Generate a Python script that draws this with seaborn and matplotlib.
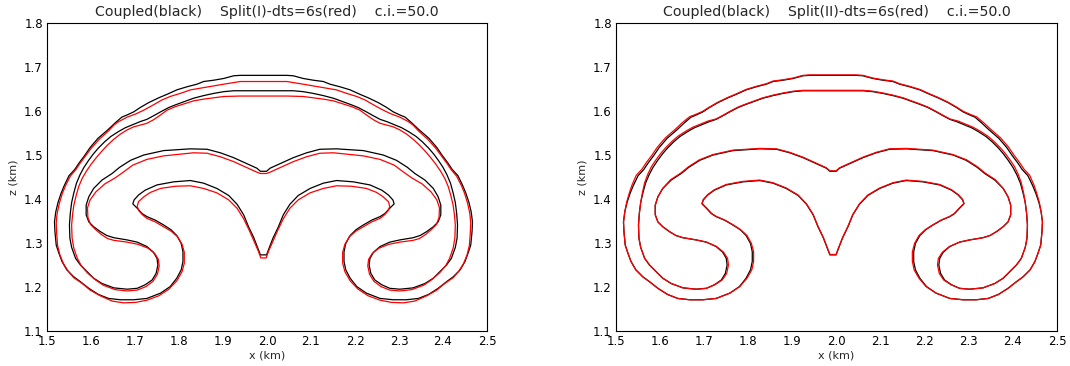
import numpy as np
import pandas as pd
import matplotlib
matplotlib.use("Agg")
import matplotlib.pyplot as plt
import seaborn as sns

# ---------------- data (left halves of symmetric contours) ----------
X_CENTER = 1.992  # axis of symmetry of the bubble

# Coupled (black) - outer contour
black_a_x = [1.992, 1.939, 1.924, 1.902, 1.879, 1.856, 1.841, 1.818, 1.795, 1.773, 1.754, 1.731,
             1.712, 1.697, 1.682, 1.670, 1.655, 1.638, 1.616, 1.598, 1.585, 1.573, 1.563, 1.550,
             1.539, 1.532, 1.525, 1.520, 1.517, 1.518, 1.521, 1.527, 1.534, 1.545, 1.561, 1.576,
             1.595, 1.617, 1.640, 1.667, 1.697, 1.727, 1.758, 1.780, 1.795, 1.805, 1.809, 1.809,
             1.805, 1.795, 1.782, 1.765, 1.746, 1.727, 1.716, 1.705, 1.695, 1.698, 1.708, 1.723,
             1.750, 1.788, 1.826, 1.856, 1.886, 1.913, 1.932, 1.947, 1.958, 1.970, 1.979, 1.985,
             1.992]
black_a_z = [1.681, 1.681, 1.680, 1.674, 1.670, 1.667, 1.661, 1.655, 1.648, 1.638, 1.630, 1.619,
             1.608, 1.598, 1.591, 1.586, 1.573, 1.557, 1.538, 1.517, 1.498, 1.482, 1.467, 1.453,
             1.430, 1.413, 1.392, 1.371, 1.348, 1.326, 1.295, 1.277, 1.258, 1.239, 1.223, 1.212,
             1.197, 1.183, 1.174, 1.171, 1.171, 1.174, 1.186, 1.201, 1.220, 1.239, 1.258, 1.280,
             1.299, 1.317, 1.330, 1.341, 1.352, 1.360, 1.367, 1.379, 1.389, 1.398, 1.409, 1.420,
             1.432, 1.439, 1.442, 1.436, 1.424, 1.408, 1.388, 1.364, 1.337, 1.312, 1.289, 1.273,
             1.273]

# Coupled (black) - inner contour
black_b_x = [1.992, 1.924, 1.902, 1.879, 1.856, 1.833, 1.811, 1.792, 1.777, 1.758, 1.742, 1.727,
             1.712, 1.695, 1.678, 1.662, 1.645, 1.631, 1.617, 1.605, 1.594, 1.584, 1.575, 1.567,
             1.561, 1.556, 1.553, 1.551, 1.552, 1.556, 1.565, 1.576, 1.591, 1.606, 1.625, 1.652,
             1.682, 1.705, 1.723, 1.739, 1.748, 1.752, 1.750, 1.742, 1.727, 1.705, 1.682, 1.652,
             1.636, 1.621, 1.606, 1.595, 1.589, 1.589, 1.595, 1.606, 1.625, 1.648, 1.665, 1.690,
             1.720, 1.765, 1.826, 1.864, 1.894, 1.924, 1.955, 1.977, 1.985, 1.992]
black_b_z = [1.646, 1.646, 1.644, 1.640, 1.635, 1.629, 1.621, 1.614, 1.608, 1.598, 1.589, 1.581,
             1.576, 1.569, 1.562, 1.553, 1.542, 1.530, 1.516, 1.502, 1.487, 1.472, 1.455, 1.436,
             1.414, 1.392, 1.368, 1.341, 1.311, 1.290, 1.265, 1.250, 1.235, 1.220, 1.208, 1.198,
             1.195, 1.197, 1.205, 1.216, 1.231, 1.250, 1.265, 1.279, 1.292, 1.302, 1.307, 1.312,
             1.317, 1.326, 1.337, 1.348, 1.364, 1.386, 1.405, 1.424, 1.443, 1.458, 1.472, 1.488,
             1.500, 1.510, 1.514, 1.513, 1.505, 1.494, 1.480, 1.470, 1.463, 1.463]

# Split(I) (red, left panel) - outer contour
red1_a_x = [1.992, 1.939, 1.902, 1.879, 1.856, 1.826, 1.803, 1.780, 1.761, 1.742, 1.720, 1.701,
            1.682, 1.663, 1.652, 1.640, 1.619, 1.601, 1.587, 1.575, 1.565, 1.553, 1.542, 1.535,
            1.528, 1.523, 1.521, 1.522, 1.524, 1.529, 1.537, 1.548, 1.561, 1.580, 1.598, 1.621,
            1.648, 1.674, 1.701, 1.727, 1.754, 1.777, 1.795, 1.807, 1.812, 1.812, 1.807, 1.797,
            1.782, 1.765, 1.746, 1.727, 1.717, 1.709, 1.705, 1.708, 1.720, 1.735, 1.758, 1.792,
            1.826, 1.856, 1.886, 1.913, 1.932, 1.947, 1.960, 1.971, 1.981, 1.986, 1.992]
red1_a_z = [1.667, 1.667, 1.661, 1.657, 1.653, 1.648, 1.640, 1.633, 1.625, 1.614, 1.602, 1.593,
            1.586, 1.576, 1.568, 1.555, 1.536, 1.516, 1.497, 1.481, 1.466, 1.452, 1.430, 1.413,
            1.390, 1.367, 1.345, 1.322, 1.295, 1.274, 1.254, 1.236, 1.221, 1.208, 1.193, 1.180,
            1.168, 1.164, 1.165, 1.170, 1.180, 1.195, 1.214, 1.235, 1.254, 1.279, 1.297, 1.314,
            1.327, 1.337, 1.348, 1.356, 1.364, 1.373, 1.383, 1.394, 1.405, 1.415, 1.424, 1.429,
            1.430, 1.424, 1.414, 1.398, 1.379, 1.355, 1.328, 1.303, 1.280, 1.266, 1.266]

# Split(I) (red, left panel) - inner contour
red1_b_x = [1.992, 1.939, 1.902, 1.879, 1.856, 1.833, 1.811, 1.792, 1.773, 1.758, 1.742, 1.727,
            1.712, 1.697, 1.682, 1.666, 1.651, 1.637, 1.624, 1.612, 1.601, 1.590, 1.580, 1.572,
            1.566, 1.561, 1.558, 1.556, 1.557, 1.561, 1.569, 1.578, 1.592, 1.609, 1.628, 1.655,
            1.682, 1.705, 1.725, 1.741, 1.751, 1.755, 1.753, 1.745, 1.730, 1.707, 1.682, 1.652,
            1.638, 1.624, 1.610, 1.599, 1.593, 1.592, 1.598, 1.611, 1.631, 1.655, 1.672, 1.695,
            1.727, 1.765, 1.833, 1.864, 1.894, 1.924, 1.955, 1.977, 1.985, 1.992]
red1_b_z = [1.634, 1.634, 1.633, 1.630, 1.627, 1.623, 1.616, 1.610, 1.602, 1.591, 1.580, 1.572,
            1.568, 1.564, 1.557, 1.547, 1.535, 1.522, 1.508, 1.494, 1.480, 1.464, 1.447, 1.428,
            1.407, 1.386, 1.364, 1.341, 1.311, 1.288, 1.265, 1.248, 1.232, 1.217, 1.204, 1.194,
            1.191, 1.193, 1.201, 1.213, 1.229, 1.248, 1.263, 1.276, 1.288, 1.297, 1.302, 1.306,
            1.310, 1.319, 1.331, 1.342, 1.358, 1.380, 1.398, 1.416, 1.434, 1.448, 1.460, 1.477,
            1.490, 1.498, 1.505, 1.504, 1.496, 1.485, 1.471, 1.461, 1.458, 1.458]

# Split(II) (red, right panel) - outer contour
red2_a_x = [1.992, 1.939, 1.924, 1.902, 1.879, 1.856, 1.841, 1.818, 1.795, 1.773, 1.754, 1.731,
            1.712, 1.696, 1.680, 1.667, 1.651, 1.634, 1.612, 1.594, 1.581, 1.569, 1.559, 1.546,
            1.536, 1.530, 1.524, 1.520, 1.517, 1.518, 1.521, 1.527, 1.534, 1.545, 1.561, 1.576,
            1.595, 1.617, 1.640, 1.667, 1.697, 1.727, 1.758, 1.781, 1.797, 1.808, 1.812, 1.812,
            1.807, 1.797, 1.783, 1.766, 1.747, 1.728, 1.717, 1.706, 1.695, 1.698, 1.708, 1.723,
            1.750, 1.788, 1.826, 1.856, 1.886, 1.913, 1.932, 1.947, 1.958, 1.970, 1.979, 1.985,
            1.992]
red2_a_z = [1.682, 1.682, 1.681, 1.675, 1.671, 1.668, 1.662, 1.656, 1.649, 1.639, 1.631, 1.620,
            1.609, 1.599, 1.592, 1.587, 1.574, 1.558, 1.539, 1.518, 1.499, 1.483, 1.468, 1.454,
            1.431, 1.413, 1.392, 1.371, 1.348, 1.326, 1.295, 1.277, 1.258, 1.239, 1.223, 1.212,
            1.197, 1.183, 1.174, 1.171, 1.171, 1.174, 1.186, 1.201, 1.220, 1.239, 1.258, 1.280,
            1.299, 1.317, 1.330, 1.341, 1.352, 1.360, 1.367, 1.379, 1.390, 1.399, 1.410, 1.421,
            1.433, 1.440, 1.443, 1.437, 1.425, 1.409, 1.389, 1.365, 1.338, 1.313, 1.290, 1.274,
            1.274]

# Split(II) (red, right panel) - inner contour
red2_b_x = [1.992, 1.924, 1.902, 1.879, 1.856, 1.833, 1.811, 1.792, 1.777, 1.758, 1.742, 1.727,
            1.708, 1.691, 1.674, 1.658, 1.641, 1.627, 1.613, 1.601, 1.590, 1.580, 1.572, 1.565,
            1.560, 1.556, 1.553, 1.551, 1.552, 1.556, 1.565, 1.576, 1.591, 1.606, 1.625, 1.652,
            1.682, 1.705, 1.724, 1.741, 1.751, 1.755, 1.753, 1.744, 1.728, 1.705, 1.682, 1.652,
            1.636, 1.621, 1.606, 1.595, 1.589, 1.589, 1.595, 1.606, 1.624, 1.647, 1.664, 1.689,
            1.720, 1.765, 1.826, 1.864, 1.894, 1.924, 1.955, 1.977, 1.985, 1.992]
red2_b_z = [1.647, 1.647, 1.645, 1.641, 1.636, 1.630, 1.622, 1.615, 1.609, 1.599, 1.590, 1.582,
            1.577, 1.570, 1.563, 1.554, 1.543, 1.531, 1.517, 1.503, 1.488, 1.473, 1.456, 1.437,
            1.415, 1.392, 1.368, 1.341, 1.311, 1.290, 1.265, 1.250, 1.235, 1.220, 1.208, 1.198,
            1.195, 1.197, 1.205, 1.216, 1.231, 1.250, 1.265, 1.279, 1.292, 1.302, 1.307, 1.312,
            1.317, 1.326, 1.337, 1.348, 1.364, 1.386, 1.405, 1.424, 1.444, 1.459, 1.473, 1.489,
            1.501, 1.511, 1.515, 1.514, 1.506, 1.495, 1.481, 1.471, 1.464, 1.464]

titles = ["Coupled(black)    Split(I)-dts=6s(red)    c.i.=50.0",
          "Coupled(black)    Split(II)-dts=6s(red)    c.i.=50.0"]
x_ticks = [1.5, 1.6, 1.7, 1.8, 1.9, 2.0, 2.1, 2.2, 2.3, 2.4, 2.5]
z_ticks = [1.1, 1.2, 1.3, 1.4, 1.5, 1.6, 1.7, 1.8]


def closed_contour(half_x, half_z, name):
    """Left half traced from the picture + its mirror image about X_CENTER.
    The points on the symmetry axis are not repeated; the ring is closed at the end."""
    inner_x = list(half_x[1:-1])
    inner_z = list(half_z[1:-1])
    xs = list(half_x) + [2 * X_CENTER - v for v in reversed(inner_x)] + [half_x[0]]
    zs = list(half_z) + list(reversed(inner_z)) + [half_z[0]]
    return pd.DataFrame({"x": xs, "z": zs, "contour": name})


# ---------------- figure ----------------
sns.set_theme(style="white")
plt.rcParams["font.family"] = ["DejaVu Sans"]
plt.rcParams["lines.solid_joinstyle"] = "round"
plt.rcParams["lines.solid_capstyle"] = "butt"

fig = plt.figure(figsize=(10.7, 3.66), dpi=100)
W, H = 1070, 366
ax1 = fig.add_axes([47 / W, (H - 331) / H, 440 / W, 308 / H])
ax2 = fig.add_axes([616 / W, (H - 331) / H, 441 / W, 308 / H])

panels = [
    (ax1, [(black_a_x, black_a_z, "black"), (black_b_x, black_b_z, "black"),
           (red1_a_x, red1_a_z, "red"), (red1_b_x, red1_b_z, "red")]),
    (ax2, [(black_a_x, black_a_z, "black"), (black_b_x, black_b_z, "black"),
           (red2_a_x, red2_a_z, "red"), (red2_b_x, red2_b_z, "red")]),
]

for (ax, curves), title in zip(panels, titles):
    frames = [closed_contour(hx, hz, f"{col}{i}") for i, (hx, hz, col) in enumerate(curves)]
    df = pd.concat(frames, ignore_index=True)
    palette = {f"{col}{i}": col for i, (hx, hz, col) in enumerate(curves)}
    sns.lineplot(data=df, x="x", y="z", hue="contour", units="contour", palette=palette,
                 sort=False, estimator=None, linewidth=0.9, legend=False, ax=ax)
    ax.set_xlim(1.5, 2.5)
    ax.set_ylim(1.1, 1.8)
    ax.set_xticks(x_ticks)
    ax.set_yticks(z_ticks)
    ax.set_xticklabels([f"{v:.1f}" for v in x_ticks])
    ax.set_yticklabels([f"{v:.1f}" for v in z_ticks])
    ax.tick_params(direction="in", length=4, width=0.8, labelsize=8.5, colors="black",
                   top=False, right=False, pad=3)
    ax.set_xlabel("x (km)", fontsize=8, labelpad=2)
    ax.set_ylabel("z (km)", fontsize=8, labelpad=4)
    ax.set_title(title, fontsize=10.2, pad=5)
    for s in ax.spines.values():
        s.set_color("black")
        s.set_linewidth(0.8)
        s.set_visible(True)
    ax.grid(False)

fig.savefig("out.png", dpi=100, facecolor="white")
